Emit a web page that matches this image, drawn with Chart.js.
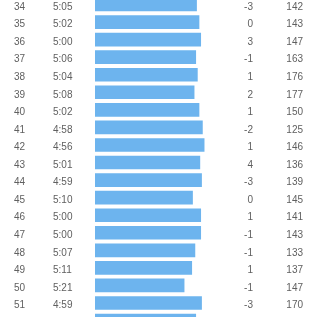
<!DOCTYPE html>
<html>
<head>
<meta charset="utf-8">
<style>
  html, body { margin: 0; padding: 0; background: #fff; }
  #wrap { width: 317px; height: 317px; }
</style>
<script src="https://cdn.jsdelivr.net/npm/chart.js@4/dist/chart.umd.min.js"></script>
</head>
<body>
<div id="wrap"><canvas id="splits" width="317" height="317"></canvas></div>
<script>
// vueltas visibles (la 52 queda cortada abajo)
const vueltas = [34, 35, 36, 37, 38, 39, 40, 41, 42, 43, 44, 45, 46, 47, 48, 49, 50, 51, 52];
const ritmos = ['5:05', '5:02', '5:00', '5:06', '5:04', '5:08', '5:02', '4:58', '4:56', '5:01',
                '4:59', '5:10', '5:00', '5:00', '5:07', '5:11', '5:21', '4:59', '5:06'];
const desnivel = [-3, 0, 3, -1, 1, 2, 1, -2, 1, 4, -3, 0, 1, -1, -1, 1, -1, -3, null];
const pulso = [142, 143, 147, 163, 176, 177, 150, 125, 146, 136, 139, 145, 141, 143, 133, 137, 147, 170, null];

// velocidad en km/h a partir del ritmo min/km
const toSec = r => { const p = r.split(':'); return +p[0] * 60 + +p[1]; };
const velocidad = ritmos.map(r => 3600 / toSec(r));

const fuente = '10px "Liberation Sans", Arial, sans-serif';
const colorTexto = '#606060';

const columnas = {
  id: 'columnas',
  afterDatasetsDraw(chart) {
    const ctx = chart.ctx;
    const y = chart.scales.y;
    ctx.save();
    ctx.font = fuente;
    ctx.fillStyle = colorTexto;
    ctx.textBaseline = 'middle';
    vueltas.forEach((v, i) => {
      const py = y.getPixelForValue(v) + 2.5;
      if (py > chart.height) return; // fila 52 fuera de la imagen
      ctx.textAlign = 'left';
      ctx.fillText(String(v), 14, py);
      ctx.fillText(ritmos[i], 53, py);
      ctx.textAlign = 'right';
      if (desnivel[i] !== null) ctx.fillText(String(desnivel[i]), 253, py);
      if (pulso[i] !== null) ctx.fillText(String(pulso[i]), 303, py);
    });
    ctx.restore();
  }
};

new Chart(document.getElementById('splits'), {
  type: 'bar',
  data: {
    datasets: [{
      data: vueltas.map((v, i) => ({ x: velocidad[i], y: v })),
      backgroundColor: '#6db4ee',
      borderWidth: 0,
      barThickness: 13,
    }],
  },
  options: {
    indexAxis: 'y',
    responsive: false,
    animation: false,
    layout: { padding: { left: 95, right: 0, top: 0, bottom: 0 } },
    plugins: { legend: { display: false }, tooltip: { enabled: false } },
    scales: {
      x: { type: 'linear', min: 7, max: 17.5, display: false },
      y: { type: 'linear', reverse: true, offset: false, min: 33.744, max: 51.797, display: false },
    },
  },
  plugins: [columnas],
});
</script>
</body>
</html>
